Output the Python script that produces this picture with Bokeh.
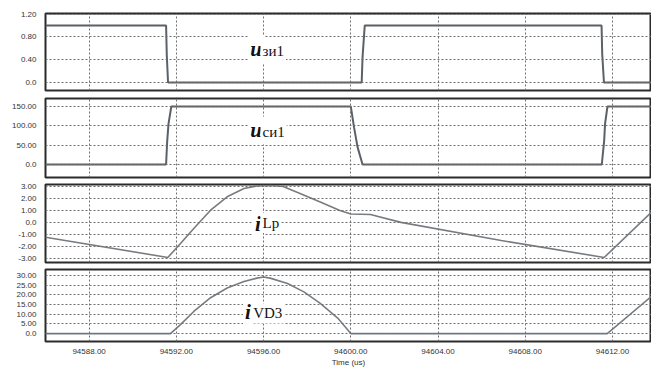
from bokeh.plotting import figure
from bokeh.layouts import column
from bokeh.models import FixedTicker, Range1d, Label
from bokeh.embed import file_html
from bokeh.resources import INLINE

# ---------------- data ----------------
t_ugs = [94586.0, 94591.53, 94591.56, 94591.62, 94600.50, 94600.54, 94600.64,
         94611.50, 94611.53, 94611.61, 94613.8]
ugs = [1.0, 1.0, 0.5, 0.0, 0.0, 0.45, 1.0, 1.0, 0.5, 0.0, 0.0]

t_uds = [94586.0, 94591.53, 94591.58, 94591.64, 94591.77, 94600.0, 94600.15,
         94600.31, 94600.54, 94611.51, 94611.62, 94611.66, 94611.77, 94613.8]
uds = [0.0, 0.0, 60.0, 105.0, 150.0, 150.0, 96.0, 45.0, 0.0, 0.0, 62.0, 105.0,
       150.0, 150.0]

t_ilp = [94586.0, 94591.61, 94592.19, 94592.8, 94593.57, 94594.33, 94595.1,
         94595.7, 94596.3, 94596.9, 94597.7, 94598.6, 94599.5, 94600.0,
         94600.9, 94602.3, 94606.9, 94611.62, 94613.8]
ilp = [-1.24, -2.94, -1.77, -0.51, 1.02, 2.14, 2.83, 3.05, 3.08, 3.0, 2.4, 1.7,
       1.0, 0.70, 0.66, 0.0, -1.52, -2.94, 0.87]

t_ivd = [94586.0, 94591.73, 94592.19, 94592.8, 94593.57, 94594.33, 94595.1,
         94595.7, 94596.0, 94596.3, 94597.1, 94597.85, 94598.6, 94599.4,
         94600.0, 94611.76, 94613.8]
ivd = [0.0, 0.0, 4.6, 11.4, 18.5, 23.5, 26.9, 28.6, 29.2, 28.6, 25.8, 21.5,
       15.6, 8.0, 0.0, 0.0, 19.3]

x_ticks = [94588, 94592, 94596, 94600, 94604, 94608, 94612]
x_tick_labels = ["94588.00", "94592.00", "94596.00", "94600.00", "94604.00",
                 "94608.00", "94612.00"]

y1_ticks = [0.0, 0.4, 0.8, 1.2]
y1_labels = ["0.0", "0.40", "0.80", "1.20"]
y2_ticks = [0, 50, 100, 150]
y2_labels = ["0.0", "50.00", "100.00", "150.00"]
y3_ticks = [-3, -2, -1, 0, 1, 2, 3]
y3_labels = ["-3.00", "-2.00", "-1.00", "0.0", "1.00", "2.00", "3.00"]
y4_ticks = [0, 5, 10, 15, 20, 25, 30]
y4_labels = ["0.0", "5.00", "10.00", "15.00", "20.00", "25.00", "30.00"]

x_label = "Time (us)"

# ---------------- styling ----------------
W = 651
x_range = Range1d(94586.0, 94613.79)
TICK_FONT = "Liberation Sans"
SERIF = "Liberation Serif"
GRID_COLOR = "#6f6f6f"


def make_fig(height, yr, yt, yl, top, bottom, last=False):
    p = figure(width=W, height=height, x_range=x_range, y_range=Range1d(*yr),
               output_backend="svg", toolbar_location=None,
               x_axis_location="below" if last else None,
               min_border_left=45, min_border_right=0,
               min_border_top=top, min_border_bottom=bottom)
    p.background_fill_color = "white"
    p.border_fill_color = "white"
    p.outline_line_color = "#2b2b2b"
    p.outline_line_width = 2
    yt_ticker = FixedTicker(ticks=yt)
    xt_ticker = FixedTicker(ticks=x_ticks)
    p.yaxis.ticker = yt_ticker
    p.yaxis.major_label_overrides = {k: v for k, v in zip(yt, yl)}
    p.yaxis.axis_line_color = None
    p.yaxis.major_tick_out = 0
    p.yaxis.major_tick_in = 0
    p.yaxis.minor_tick_line_color = None
    p.yaxis.major_label_standoff = 9
    p.yaxis.major_label_text_font = TICK_FONT
    p.yaxis.major_label_text_font_size = "8px"
    p.yaxis.major_label_text_color = "#333333"
    p.xgrid.ticker = xt_ticker
    p.ygrid.ticker = yt_ticker
    if last:
        p.xaxis.ticker = xt_ticker
        p.xaxis.major_label_overrides = {k: v for k, v in zip(x_ticks, x_tick_labels)}
        p.xaxis.axis_line_color = None
        p.xaxis.major_tick_out = 0
        p.xaxis.major_tick_in = 0
        p.xaxis.minor_tick_line_color = None
        p.xaxis.major_label_standoff = 7
        p.xaxis.major_label_text_font = TICK_FONT
        p.xaxis.major_label_text_font_size = "8px"
        p.xaxis.major_label_text_color = "#333333"
        p.xaxis.axis_label = x_label
        p.xaxis.axis_label_text_font = TICK_FONT
        p.xaxis.axis_label_text_font_size = "8px"
        p.xaxis.axis_label_text_font_style = "normal"
        p.xaxis.axis_label_text_color = "#333333"
        p.xaxis.axis_label_standoff = 1
    for g in (p.xgrid, p.ygrid):
        g.visible = True
        g.level = "glyph"
        g.grid_line_color = GRID_COLOR
        g.grid_line_alpha = 1.0
        g.grid_line_dash = "2 2"
        g.grid_line_width = 1
    return p


def add_name(p, main, sub, xm, ym, xs, ys):
    p.add_layout(Label(x=xm, y=ym, text=main, text_font=SERIF,
                       text_font_size="21px", text_font_style="bold italic",
                       text_color="#111111", text_align="left",
                       text_baseline="alphabetic",
                       background_fill_color="white", padding=2))
    p.add_layout(Label(x=xs, y=ys, text=sub, text_font=SERIF,
                       text_font_size="15px", text_font_style="normal",
                       text_color="#111111", text_align="left",
                       text_baseline="alphabetic",
                       background_fill_color="white", padding=2))


p1 = make_fig(94, (-0.14, 1.21), y1_ticks, y1_labels, 13, 4)
p1.line(t_ugs, ugs, line_color="#5b6166", line_width=2)
add_name(p1, "u", "зи1", 94595.3, 0.58, 94595.86, 0.56)

p2 = make_fig(86, (-33.6, 170.7), y2_ticks, y2_labels, 4, 3)
p2.line(t_uds, uds, line_color="#5b6166", line_width=2)
add_name(p2, "u", "си1", 94595.3, 88, 94595.86, 84)

p3 = make_fig(85, (-3.36, 3.17), y3_ticks, y3_labels, 4, 3)
p3.line(t_ilp, ilp, line_color="#777c81", line_width=1.6)
add_name(p3, "i", "Lp", 94595.52, -0.1, 94595.86, -0.06)

p4 = make_fig(104, (-4.07, 33.05), y4_ticks, y4_labels, 4, 27, last=True)
p4.line(t_ivd, ivd, line_color="#777c81", line_width=1.6)
add_name(p4, "i", "VD3", 94595.06, 11.2, 94595.43, 10.4)

layout = column(p1, p2, p3, p4, spacing=0)

open("out.html", "w").write(file_html(layout, INLINE))
